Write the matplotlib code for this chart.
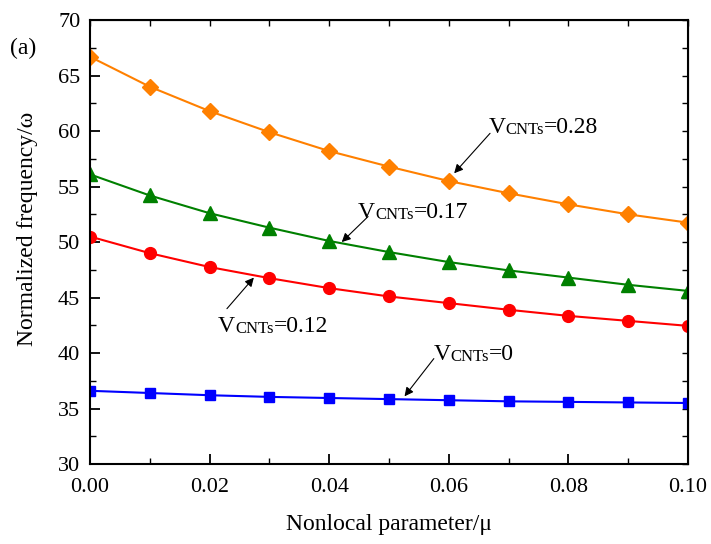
import matplotlib
matplotlib.use("Agg")
import matplotlib.pyplot as plt
from matplotlib.ticker import MultipleLocator, FormatStrFormatter
import numpy as np

plt.rcParams["font.family"] = ["Liberation Serif", "DejaVu Serif"]

mu = np.arange(0, 0.101, 0.01)

# normalized frequency for each CNT volume fraction
freq_028 = [66.7, 64.0, 61.8, 59.9, 58.2, 56.8, 55.5, 54.4, 53.4, 52.5, 51.75]
freq_017 = [56.1, 54.2, 52.6, 51.3, 50.1, 49.1, 48.2, 47.45, 46.8, 46.15, 45.6]
freq_012 = [50.5, 49.0, 47.75, 46.75, 45.85, 45.1, 44.5, 43.9, 43.35, 42.9, 42.45]
freq_000 = [36.6, 36.4, 36.2, 36.05, 35.95, 35.85, 35.75, 35.65, 35.6, 35.55, 35.5]

series = [
    (freq_028, "#FF8000", "D", 8.5),
    (freq_017, "#008000", "^", 9.5),
    (freq_012, "#FF0000", "o", 8.5),
    (freq_000, "#0000FF", "s", 7.5),
]

# (fraction label, text position, arrow tail, arrow head) in data coords
labels = ["0.28", "0.17", "0.12", "0"]
text_pos = [(0.0667, 60.5), (0.0448, 52.9), (0.0214, 42.6), (0.0575, 40.1)]
arrow_tail = [(0.0669, 59.8), (0.0465, 52.3), (0.0229, 44.0), (0.0575, 39.5)]
arrow_head = [(0.0609, 56.2), (0.0421, 50.0), (0.0274, 46.8), (0.0526, 36.1)]

fig = plt.figure(figsize=(7.11, 5.44), dpi=100)
ax = fig.add_axes([0.1266, 0.147, 0.841, 0.816])

for vals, color, marker, ms in series:
    ax.plot(mu, vals, color=color, lw=1.5, marker=marker, markersize=ms,
            markerfacecolor=color, markeredgecolor=color)


def vcnt_label(ax, xy, value):
    # "V" followed by smaller "CNTs" and the value, chained on the same baseline
    t = ax.text(xy[0], xy[1], "V", fontsize=17, va="baseline", ha="left")
    t2 = ax.annotate("CNTs", xy=(1, 0), xycoords=t, fontsize=12,
                     va="bottom", ha="left")
    ax.annotate("=" + value, xy=(1, 0), xycoords=t2, fontsize=17,
                va="bottom", ha="left")


for lab, pos, tail, head in zip(labels, text_pos, arrow_tail, arrow_head):
    vcnt_label(ax, (pos[0], pos[1] - 0.7), lab)
    ax.annotate("", xy=head, xytext=tail,
                arrowprops=dict(arrowstyle="-|>", color="k", lw=0.8,
                                mutation_scale=13, shrinkA=0, shrinkB=0))

ax.set_xlim(0, 0.10)
ax.set_ylim(30, 70)
ax.xaxis.set_major_locator(MultipleLocator(0.02))
ax.xaxis.set_minor_locator(MultipleLocator(0.01))
ax.yaxis.set_major_locator(MultipleLocator(5))
ax.yaxis.set_minor_locator(MultipleLocator(2.5))
ax.xaxis.set_major_formatter(FormatStrFormatter("%.2f"))
ax.tick_params(which="major", direction="in", length=7, width=1.3,
               labelsize=16)
ax.tick_params(which="minor", direction="in", length=4, width=1.0)
ax.tick_params(axis="x", which="major", pad=10)
ax.tick_params(axis="y", which="major", pad=7)

for side in ax.spines.values():
    side.set_linewidth(1.5)

# small inward ticks on the top and right frame
top = ax.secondary_xaxis("top")
top.xaxis.set_major_locator(MultipleLocator(0.01))
top.tick_params(direction="in", length=4, width=1.0, labeltop=False)
right = ax.secondary_yaxis("right")
right.yaxis.set_major_locator(MultipleLocator(2.5))
right.tick_params(direction="in", length=4, width=1.0, labelright=False)

ax.set_xlabel("Nonlocal parameter/μ", fontsize=17)
ax.set_ylabel("Normalized frequency/ω", fontsize=17)
ax.xaxis.set_label_coords(0.5, -0.113)
ax.yaxis.set_label_coords(-0.087, 0.53)
fig.text(0.014, 0.9, "(a)", fontsize=17)

fig.savefig("out.png", dpi=100)
